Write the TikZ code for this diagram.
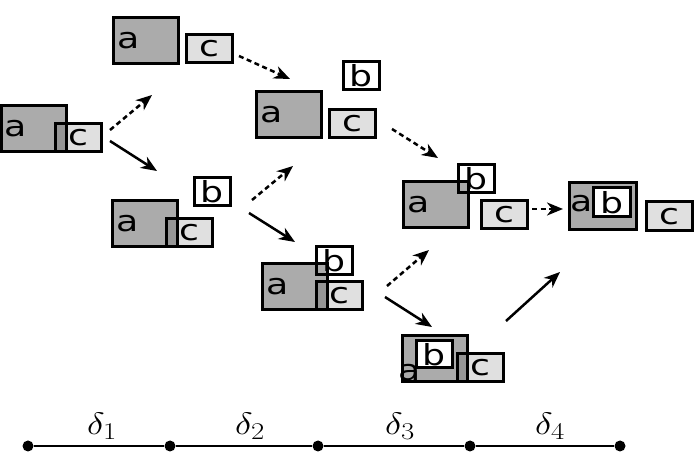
\documentclass[tikz,border=0pt]{standalone}
\usepackage{fix-cm}
\usepackage{graphicx}
\usepackage{fontspec}
\newfontfamily\dvsans[FakeStretch=1.25]{DejaVu Sans}
\usetikzlibrary{arrows.meta}
\DeclareMathSizes{31}{31}{24}{18}
\definecolor{agray}{HTML}{ABABAB}
\definecolor{cgray}{HTML}{E0E0E0}
\tikzset{
  boxbase/.style={draw, line width=3pt, inner sep=0pt, font=\dvsans\fontsize{29}{29}\selectfont},
  abox/.style={boxbase, fill=agray, minimum width=65pt, minimum height=46pt, text width=57pt, inner xsep=4pt, align=left},
  aempty/.style={boxbase, fill=agray, minimum width=65pt, minimum height=46pt},
  cbox/.style={boxbase, fill=cgray, minimum width=46pt, minimum height=28pt},
  bbox/.style={boxbase, fill=white, minimum width=36pt, minimum height=28pt},
  lettr/.style={inner sep=0pt, font=\dvsans\fontsize{29}{29}\selectfont},
  mult/.style={blend mode=multiply},
  arr/.style={line width=2.5pt, -{Stealth[length=16pt,width=13pt,inset=5pt]}},
  darr/.style={arr, dash pattern=on 5pt off 3.5pt},
  tdot/.style={circle, fill=black, inner sep=0pt, minimum size=11pt},
  tlab/.style={anchor=base, inner sep=0pt, font=\fontsize{31}{31}\selectfont}
}
\begin{document}
\begin{tikzpicture}[x=1pt,y=-1pt]
\useasboundingbox (0,0) rectangle (694,470);
% state 1
\node[abox] (s1a) at (33.5,129) {a};
\begin{scope}[mult]\node[cbox] (s1c) at (78,137.5) {c};\end{scope}
% state 2 (top, delta1)
\node[abox] (s2a) at (145.5,40.5) {a};
\node[cbox] (s2c) at (209,49) {c};
% state 3 (bottom, delta1)
\node[bbox] (s3b) at (212.5,192) {b};
\node[abox] (s3a) at (145,224) {a};
\begin{scope}[mult]\node[cbox] (s3c) at (189.5,233) {c};\end{scope}
% state 4 (top, delta2)
\node[bbox] (s4b) at (361,76) {b};
\node[abox] (s4a) at (289,115) {a};
\node[cbox] (s4c) at (352.5,124) {c};
% state 5 (bottom, delta2)
\node[abox] (s5a) at (294.5,287) {a};
\begin{scope}[mult]
\node[bbox] (s5b) at (334.5,261) {b};
\node[cbox] (s5c) at (339.5,296) {c};
\end{scope}
% state 6 (top, delta3)
\node[abox] (s6a) at (435.5,205) {a};
\begin{scope}[mult]\node[bbox] (s6b) at (476,179) {b};\end{scope}
\node[cbox] (s6c) at (504,214.5) {c};
% state 7 (bottom, delta3)
\node[aempty] (s7a) at (435,359) {};
\node[bbox, minimum height=27pt] (s7b) at (434,354.5) {b};
\node[lettr] (s7t) at (410,373) {a};
\begin{scope}[mult]\node[cbox] (s7c) at (480,367.5) {c};\end{scope}
% state 8 (final)
\node[aempty, minimum width=67pt, minimum height=47pt] (s8a) at (602.5,206.5) {};
\node[lettr] (s8t) at (582,204) {a};
\node[bbox, minimum width=37pt, minimum height=29pt] (s8b) at (611.5,202.5) {b};
\node[cbox, minimum height=29pt] (s8c) at (669,216.5) {c};
% arrow end points
\coordinate (p1s) at (110,130); \coordinate (p1e) at (152,95);
\coordinate (p2s) at (110,141); \coordinate (p2e) at (157,171);
\coordinate (p3s) at (239,56);  \coordinate (p3e) at (290,79);
\coordinate (p4s) at (252,200); \coordinate (p4e) at (293,166);
\coordinate (p5s) at (249,213); \coordinate (p5e) at (295,242);
\coordinate (p6s) at (392,129); \coordinate (p6e) at (438,158);
\coordinate (p7s) at (387,286); \coordinate (p7e) at (429,250);
\coordinate (p8s) at (385,297); \coordinate (p8e) at (432,327);
\coordinate (p9s) at (532,209); \coordinate (p9e) at (563,209);
\coordinate (p10s) at (506,321); \coordinate (p10e) at (560,272);
\draw[darr] (p1s) -- (p1e);
\draw[arr] (p2s) -- (p2e);
\draw[darr] (p3s) -- (p3e);
\draw[darr] (p4s) -- (p4e);
\draw[arr] (p5s) -- (p5e);
\draw[darr] (p6s) -- (p6e);
\draw[darr] (p7s) -- (p7e);
\draw[arr] (p8s) -- (p8e);
\draw[darr] (p9s) -- (p9e);
\draw[arr] (p10s) -- (p10e);
% timeline
\node[tdot] (t0) at (28,446) {};
\node[tdot] (t1) at (170,446) {};
\node[tdot] (t2) at (318,446) {};
\node[tdot] (t3) at (470,446) {};
\node[tdot] (t4) at (620,446) {};
\draw[line width=1.2pt] (t0) -- (t1) -- (t2) -- (t3) -- (t4);
\node[tlab] (d1) at (102,435) {\scalebox{1.2}[1]{$\delta_1$}};
\node[tlab] (d2) at (250,435) {\scalebox{1.2}[1]{$\delta_2$}};
\node[tlab] (d3) at (400,435) {\scalebox{1.2}[1]{$\delta_3$}};
\node[tlab] (d4) at (550,435) {\scalebox{1.2}[1]{$\delta_4$}};
\end{tikzpicture}
\end{document}
